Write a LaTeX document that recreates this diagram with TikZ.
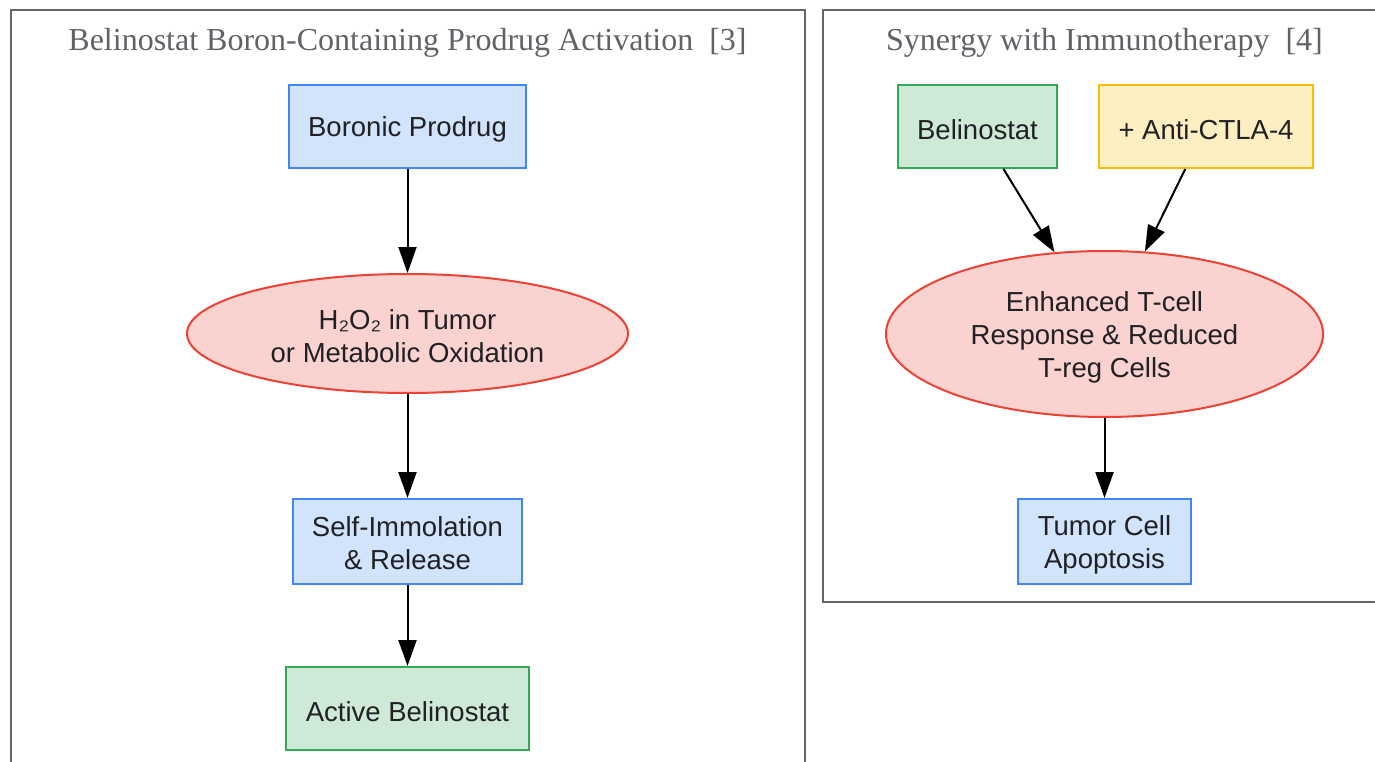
\documentclass[tikz,border=0pt]{standalone}
\usepackage{fontspec}
\setmainfont{Liberation Sans}
\newfontfamily\titlefont{Liberation Serif}
\usetikzlibrary{shapes.geometric,arrows.meta}
\definecolor{bluefill}{HTML}{D2E3FC}
\definecolor{blueline}{HTML}{4285F4}
\definecolor{greenfill}{HTML}{CEEAD6}
\definecolor{greenline}{HTML}{34A853}
\definecolor{yellowfill}{HTML}{FEEFC3}
\definecolor{yellowline}{HTML}{FBBC04}
\definecolor{redfill}{HTML}{FAD2CF}
\definecolor{redline}{HTML}{EA4335}
\definecolor{clusterline}{HTML}{666666}
\definecolor{titlegray}{HTML}{5F6368}
\definecolor{textdark}{HTML}{202124}
\begin{document}
\begin{tikzpicture}[x=1pt,y=-1pt,
  box/.style={rectangle,draw,line width=2pt,inner sep=0pt},
  oval/.style={ellipse,draw,line width=2pt,inner sep=0pt},
  lbl/.style={inner sep=0pt,align=center,text=textdark,font=\fontsize{27.5}{33}\selectfont},
  bluebox/.style={box,fill=bluefill,draw=blueline},
  greenbox/.style={box,fill=greenfill,draw=greenline},
  yellowbox/.style={box,fill=yellowfill,draw=yellowline},
  redoval/.style={oval,fill=redfill,draw=redline},
  cluster/.style={draw=clusterline,line width=2.5pt},
  ctitle/.style={text=titlegray,font=\titlefont\fontsize{32}{36}\selectfont,inner sep=0pt},
  arr/.style={-{Triangle[length=26pt,width=18pt]},line width=2pt,black}
]
\useasboundingbox (0,0) rectangle (1375,762);
% clusters
\draw[cluster] (11,800) -- (11,10) -- (805,10) -- (805,800);
\draw[cluster] (1400,602) -- (823,602) -- (823,10) -- (1400,10);
\node[ctitle] (t1) at (407.5,43) {Belinostat Boron-Containing Prodrug Activation\ \ [3]};
\node[ctitle] (t2) at (1104.5,43) {Synergy with Immunotherapy\ \ [4]};
% left cluster
\node[bluebox,minimum width=237pt,minimum height=83pt] (pro) at (407.5,126.5) {};
\node[lbl] (pro-t) at ([yshift=-3pt]pro.center) {Boronic Prodrug};
\node[redoval,minimum width=441pt,minimum height=119pt] (h2o2) at (407.5,333.5) {};
\node[lbl] (h2o2-t) at ([yshift=-3pt]h2o2.center) {H₂O₂ in Tumor\\or Metabolic Oxidation};
\node[bluebox,minimum width=229pt,minimum height=85pt] (self) at (407.5,541.5) {};
\node[lbl] (self-t) at ([yshift=-2pt]self.center) {Self-Immolation\\\& Release};
\node[greenbox,minimum width=243pt,minimum height=83pt] (act) at (407.5,708.5) {};
\node[lbl] (act-t) at ([yshift=-3pt]act.center) {Active Belinostat};
\draw[arr] (pro) -- (h2o2);
\draw[arr] (h2o2) -- (self);
\draw[arr] (self) -- (act);
% right cluster
\node[greenbox,minimum width=159pt,minimum height=83pt] (bel) at (977.5,126.5) {};
\node[lbl] (bel-t) at ([yshift=-3pt]bel.center) {Belinostat};
\node[yellowbox,minimum width=214pt,minimum height=83pt] (ctla) at (1206,126.5) {};
\node[lbl] (ctla-t) at ([yshift=-3pt]ctla.center) {+ Anti-CTLA-4};
\node[redoval,minimum width=437pt,minimum height=166pt] (enh) at (1104.5,334) {};
\node[lbl] (enh-t) at ([yshift=-3pt]enh.center) {Enhanced T-cell\\Response \& Reduced\\T-reg Cells};
\node[bluebox,minimum width=173pt,minimum height=85pt] (apo) at (1104.5,541.5) {};
\node[lbl] (apo-t) at ([yshift=-3pt]apo.center) {Tumor Cell\\Apoptosis};
\draw[arr] (bel) -- (enh);
\draw[arr] (ctla) -- (enh);
\draw[arr] (enh) -- (apo);
\end{tikzpicture}
\end{document}
